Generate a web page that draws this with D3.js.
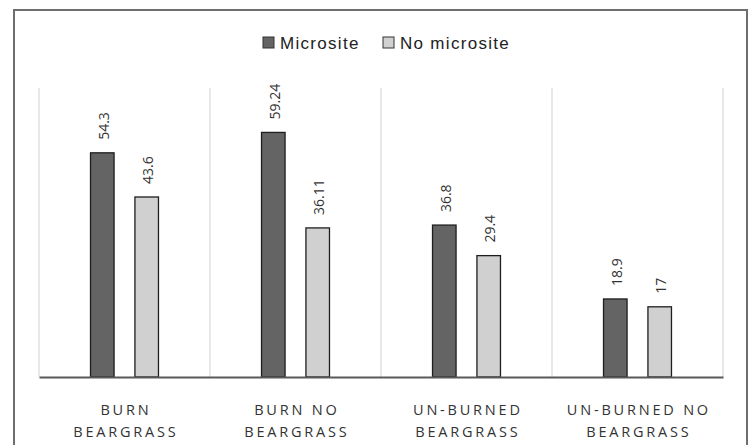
<!DOCTYPE html>
<html>
<head>
<meta charset="utf-8">
<script src="https://cdn.jsdelivr.net/npm/d3@7"></script>
<style>
  html, body { margin: 0; padding: 0; background: #fff; }
  svg { display: block; }
</style>
</head>
<body>
<svg id="chart" width="751" height="445"></svg>
<script>
// Site treatments and their two-line axis labels
const categories = ["Burn Beargrass", "Burn No Beargrass", "Un-burned Beargrass", "Un-burned No Beargrass"];
const categoryLines = [["BURN", "BEARGRASS"], ["BURN NO", "BEARGRASS"], ["UN-BURNED", "BEARGRASS"], ["UN-BURNED NO", "BEARGRASS"]];
const seriesNames = ["Microsite", "No microsite"];
const microsite = [54.3, 59.24, 36.8, 18.9];
const noMicrosite = [43.6, 36.11, 29.4, 17];
const valueLabels = [["54.3", "59.24", "36.8", "18.9"], ["43.6", "36.11", "29.4", "17"]];
const yDomain = [0, 70];

const seriesValues = [microsite, noMicrosite];
const fills = ["#646464", "#d0d0d0"];

const svg = d3.select("#chart");

// Outer frame
svg.append("rect")
  .attr("x", 14).attr("y", 10).attr("width", 733).attr("height", 450)
  .attr("fill", "none").attr("stroke", "#6e6e6e").attr("stroke-width", 2);

const plot = { left: 39, right: 723, top: 88, bottom: 377 };

const x = d3.scaleBand().domain(categories).range([plot.left, plot.right]).padding(0);
const xs = d3.scaleBand().domain(seriesNames).range([0, x.bandwidth()]).paddingInner(0.47).paddingOuter(1.16);
const y = d3.scaleLinear().domain(yDomain).range([plot.bottom, plot.top]);

// Vertical separators between categories
const seps = categories.map(c => x(c)).concat([plot.right]);
svg.append("g").selectAll("line").data(seps).join("line")
  .attr("x1", d => d).attr("x2", d => d)
  .attr("y1", plot.top).attr("y2", plot.bottom)
  .attr("stroke", "#d9d9d9").attr("stroke-width", 1.2);

// Bars
const groups = svg.append("g").selectAll("g").data(categories).join("g")
  .attr("transform", c => `translate(${x(c)},0)`);

seriesNames.forEach((s, si) => {
  groups.append("rect")
    .attr("x", xs(s))
    .attr("width", xs.bandwidth())
    .attr("y", (c, ci) => y(seriesValues[si][ci]))
    .attr("height", (c, ci) => plot.bottom - y(seriesValues[si][ci]))
    .attr("fill", fills[si])
    .attr("stroke", "#1e1e1e").attr("stroke-width", 1.3);

  groups.append("text")
    .attr("transform", (c, ci) => `translate(${xs(s) + xs.bandwidth() / 2 + 6.5},${y(seriesValues[si][ci]) - 13}) rotate(-90)`)
    .attr("font-family", "'Open Sans', 'DejaVu Sans', sans-serif")
    .attr("font-size", 14)
    .attr("fill", "#333")
    .text((c, ci) => valueLabels[si][ci]);
});

// Baseline axis
const xAxis = d3.axisBottom(x).tickSize(0).tickFormat("");
const axisG = svg.append("g").attr("transform", `translate(0,${plot.bottom})`).call(xAxis);
axisG.select(".domain").attr("stroke", "#595959").attr("stroke-width", 2);

// Category labels, two lines each, letter-spaced
const labelG = svg.append("g");
const labelSpacing = 2.8;
categories.forEach((c, i) => {
  const cx = x(c) + x.bandwidth() / 2;
  const t = labelG.append("text")
    .attr("y", 415)
    .attr("text-anchor", "middle")
    .attr("font-family", "'Open Sans', 'DejaVu Sans', sans-serif")
    .attr("font-size", 14.5)
    .attr("letter-spacing", labelSpacing)
    .attr("fill", "#333");
  categoryLines[i].forEach((line, li) => {
    t.append("tspan")
      .attr("x", cx + labelSpacing / 2)
      .attr("dy", li === 0 ? 0 : 22)
      .text(line);
  });
});

// Legend
const legend = svg.append("g")
  .attr("font-family", "'Liberation Sans Narrow', 'Liberation Sans', sans-serif")
  .attr("font-size", 17).attr("letter-spacing", 1.3);
const legendPos = [263, 383];
seriesNames.forEach((s, i) => {
  legend.append("rect")
    .attr("x", legendPos[i]).attr("y", 37).attr("width", 11).attr("height", 11)
    .attr("fill", fills[i]).attr("stroke", "#333").attr("stroke-width", 1);
  legend.append("text")
    .attr("x", legendPos[i] + 17).attr("y", 48.5)
    .attr("fill", "#222")
    .text(s);
});
</script>
</body>
</html>
